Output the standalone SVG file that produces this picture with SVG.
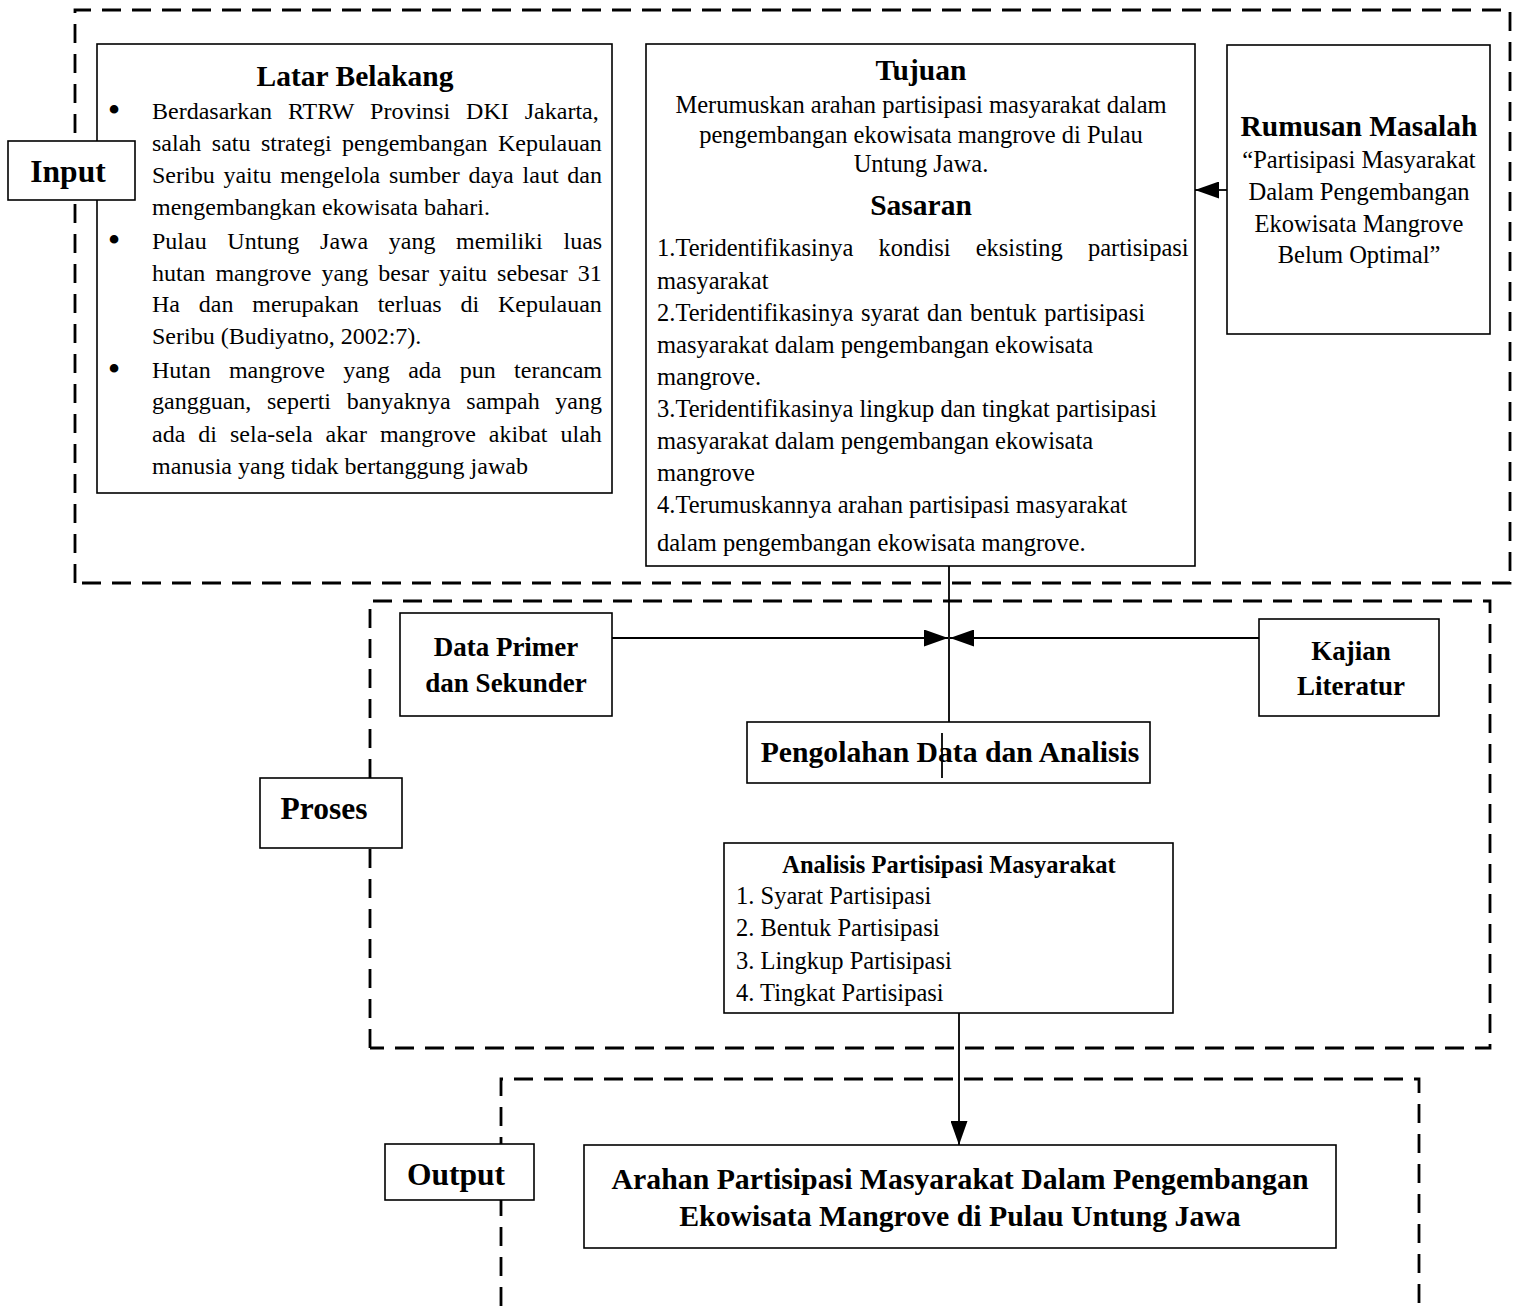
<svg xmlns="http://www.w3.org/2000/svg" width="1513" height="1306" viewBox="0 0 1513 1306">
<style>
.bg{fill:#fff}
.dash{fill:none;stroke:#000;stroke-width:2.8;stroke-dasharray:19 11}
.box{fill:#fff;stroke:#000;stroke-width:1.6}
.t{font-family:"Liberation Serif","Times New Roman",serif;fill:#000}
.b{font-weight:bold}
.c{text-anchor:middle}
.s24{font-size:24px}
.s245{font-size:24.5px}
.s27{font-size:27px}
.s295{font-size:29.5px}
.s31{font-size:31.5px}
.bul{font-size:36px}
.ln{fill:none;stroke:#000;stroke-width:1.8}
</style>
<defs>
<marker id="ah" markerUnits="userSpaceOnUse" markerWidth="25" markerHeight="17" refX="24" refY="8.5" orient="auto" viewBox="0 0 25 17">
<path d="M0,0 L24,8.5 L0,17 Z" fill="#000"/>
</marker>
</defs>
<rect class="bg" x="0" y="0" width="1513" height="1306"/>

<g id="groups">
<path class="dash" d="M75,583 V10 H1510 V583 H75"/>
<path class="dash" d="M370,1048 V601 H1490 V1048 H370"/>
<path class="dash" d="M501,1306 V1079 H1419 V1306"/>
</g>

<g id="latar-belakang">
<rect class="box" x="97" y="44" width="515" height="449"/>
<text class="t b c s295" x="355" y="86">Latar Belakang</text>
<g class="t s24">
<text x="114" y="122" class="c bul">•</text>
<text x="114" y="252" class="c bul">•</text>
<text x="114" y="381" class="c bul">•</text>
<text x="152" y="119" word-spacing="10">Berdasarkan RTRW Provinsi DKI Jakarta,</text>
<text x="152" y="151" word-spacing="4.5">salah satu strategi pengembangan Kepulauan</text>
<text x="152" y="183" word-spacing="2.8">Seribu yaitu mengelola sumber daya laut dan</text>
<text x="152" y="215">mengembangkan ekowisata bahari.</text>
<text x="152" y="249" word-spacing="14.7">Pulau Untung Jawa yang memiliki luas</text>
<text x="152" y="281" word-spacing="4.1">hutan mangrove yang besar yaitu sebesar 31</text>
<text x="152" y="312" word-spacing="12.8">Ha dan merupakan terluas di Kepulauan</text>
<text x="152" y="344">Seribu (Budiyatno, 2002:7).</text>
<text x="152" y="378" word-spacing="12.3">Hutan mangrove yang ada pun terancam</text>
<text x="152" y="409" word-spacing="9.7">gangguan, seperti banyaknya sampah yang</text>
<text x="152" y="442" word-spacing="7">ada di sela-sela akar mangrove akibat ulah</text>
<text x="152" y="474">manusia yang tidak bertanggung jawab</text>
</g>
</g>

<g id="input-label">
<rect class="box" x="8" y="141" width="127" height="59"/>
<text class="t b c s31" x="68" y="182">Input</text>
</g>

<g id="tujuan-sasaran">
<rect class="box" x="646" y="44" width="549" height="522"/>
<text class="t b c s295" x="921" y="80">Tujuan</text>
<g class="t s245">
<text class="c" x="921" y="113">Merumuskan arahan partisipasi masyarakat dalam</text>
<text class="c" x="921" y="143">pengembangan ekowisata mangrove di Pulau</text>
<text class="c" x="921" y="172">Untung Jawa.</text>
</g>
<text class="t b c s295" x="921" y="215">Sasaran</text>
<g class="t s245">
<text x="657" y="256" word-spacing="19">1.Teridentifikasinya kondisi eksisting partisipasi</text>
<text x="657" y="289">masyarakat</text>
<text x="657" y="321" word-spacing="1.5">2.Teridentifikasinya syarat dan bentuk partisipasi</text>
<text x="657" y="353">masyarakat dalam pengembangan ekowisata</text>
<text x="657" y="385">mangrove.</text>
<text x="657" y="417">3.Teridentifikasinya lingkup dan tingkat partisipasi</text>
<text x="657" y="449">masyarakat dalam pengembangan ekowisata</text>
<text x="657" y="481">mangrove</text>
<text x="657" y="513">4.Terumuskannya arahan partisipasi masyarakat</text>
<text x="657" y="551">dalam pengembangan ekowisata mangrove.</text>
</g>
</g>

<g id="rumusan-masalah">
<rect class="box" x="1227" y="45" width="263" height="289"/>
<text class="t b c s295" x="1359" y="136">Rumusan Masalah</text>
<g class="t c s245">
<text x="1359" y="168">“Partisipasi Masyarakat</text>
<text x="1359" y="200">Dalam Pengembangan</text>
<text x="1359" y="232">Ekowisata Mangrove</text>
<text x="1359" y="263">Belum Optimal”</text>
</g>
</g>

<g id="data-primer">
<rect class="box" x="400" y="613" width="212" height="103"/>
<text class="t b c s27" x="506" y="656">Data Primer</text>
<text class="t b c s27" x="506" y="692">dan Sekunder</text>
</g>

<g id="kajian-literatur">
<rect class="box" x="1259" y="619" width="180" height="97"/>
<text class="t b c s27" x="1351" y="660">Kajian</text>
<text class="t b c s27" x="1351" y="695">Literatur</text>
</g>

<g id="pengolahan">
<rect class="box" x="747" y="722" width="403" height="61"/>
<text class="t b c" x="950" y="762" style="font-size:29.7px">Pengolahan Data dan Analisis</text>
</g>

<g id="proses-label">
<rect class="box" x="260" y="778" width="142" height="70"/>
<text class="t b c s31" x="324" y="819">Proses</text>
</g>

<g id="analisis">
<rect class="box" x="724" y="843" width="449" height="170"/>
<text class="t b c s245" x="949" y="873">Analisis Partisipasi Masyarakat</text>
<g class="t s245">
<text x="736" y="904">1. Syarat Partisipasi</text>
<text x="736" y="936">2. Bentuk Partisipasi</text>
<text x="736" y="969">3. Lingkup Partisipasi</text>
<text x="736" y="1001">4. Tingkat Partisipasi</text>
</g>
</g>

<g id="output-label">
<rect class="box" x="385" y="1144" width="149" height="56"/>
<text class="t b c s31" x="456" y="1185">Output</text>
</g>

<g id="arahan">
<rect class="box" x="584" y="1145" width="752" height="103"/>
<text class="t b c" x="960" y="1189" style="font-size:29.8px">Arahan Partisipasi Masyarakat Dalam Pengembangan</text>
<text class="t b c" x="960" y="1226" style="font-size:29.8px">Ekowisata Mangrove di Pulau Untung Jawa</text>
</g>

<g id="connectors">
<path class="ln" d="M1227,190 H1195" marker-end="url(#ah)"/>
<path class="ln" d="M949,566 V722"/>
<path class="ln" d="M612,638 H948" marker-end="url(#ah)"/>
<path class="ln" d="M1259,638 H950" marker-end="url(#ah)"/>
<path class="ln" d="M942,733 V778"/>
<path class="ln" d="M959,1013 V1145" marker-end="url(#ah)"/>
</g>
</svg>
